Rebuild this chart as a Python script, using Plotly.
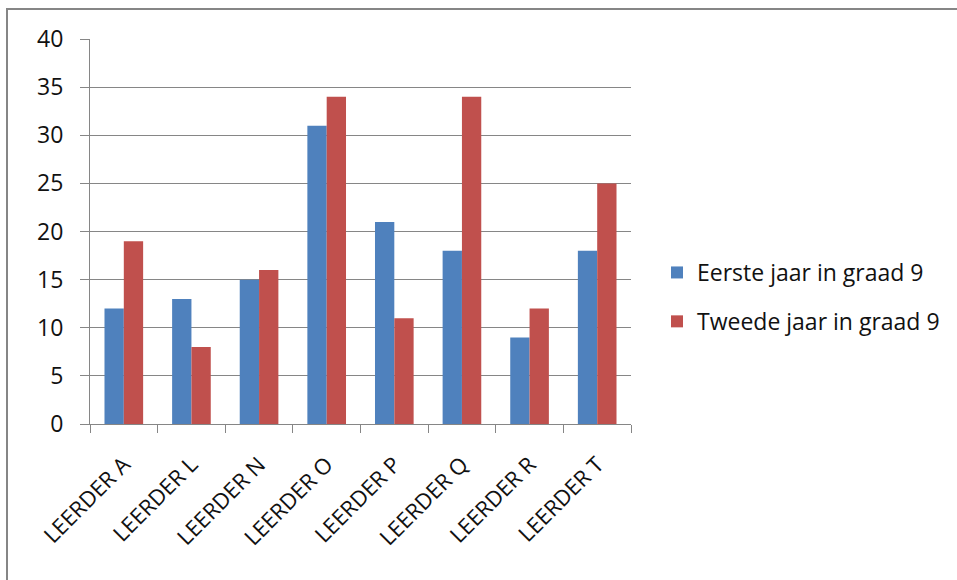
import plotly.graph_objects as go

categories = ["LEERDER A", "LEERDER L", "LEERDER N", "LEERDER O",
              "LEERDER P", "LEERDER Q", "LEERDER R", "LEERDER T"]
eerste_jaar = [12, 13, 15, 31, 21, 18, 9, 18]
tweede_jaar = [19, 8, 16, 34, 11, 34, 12, 25]
series_names = ["Eerste jaar in graad 9", "Tweede jaar in graad 9"]
series_colors = ["#4F81BD", "#C0504D"]

W, H = 957, 580
L, R, T, B = 90, 326, 39, 156
plot_w = W - L - R
plot_h = H - T - B

font_family = "'Open Sans', Lato, 'DejaVu Sans', sans-serif"

fig = go.Figure()
for name, vals, col in zip(series_names, [eerste_jaar, tweede_jaar], series_colors):
    fig.add_trace(go.Bar(
        x=categories, y=vals, name=name, legendgroup=name,
        marker=dict(color=col, line=dict(width=0)),
    ))


def px_to_paper_x(px):
    return (px - L) / plot_w


def px_to_paper_y(py):
    return (H - B - py) / plot_h


# outer chart frame (runs past the bottom/right edges of the page)
fig.add_shape(type="rect", xref="paper", yref="paper",
              x0=px_to_paper_x(7), x1=px_to_paper_x(990),
              y0=px_to_paper_y(620), y1=px_to_paper_y(9),
              line=dict(color="#868686", width=2), fillcolor="rgba(0,0,0,0)",
              layer="below")

fig.update_layout(
    width=W, height=H,
    margin=dict(l=L, r=R, t=T, b=B, pad=0),
    paper_bgcolor="white", plot_bgcolor="white",
    barmode="group", bargap=1.5 / 3.5, bargroupgap=0,
    font=dict(family=font_family, size=23, color="#111111"),
    legend=dict(
        x=px_to_paper_x(657), y=px_to_paper_y(251), xanchor="left", yanchor="top",
        font=dict(size=23), tracegroupgap=16, bgcolor="rgba(0,0,0,0)",
    ),
    xaxis=dict(
        type="category", tickangle=-45, tickson="boundaries",
        ticks="outside", ticklen=8, tickcolor="#868686", tickwidth=1,
        showline=True, linecolor="#868686", linewidth=1,
        showgrid=False, tickfont=dict(size=22), ticklabelstandoff=18,
    ),
    yaxis=dict(
        range=[0, 40], dtick=5, tick0=0,
        ticks="outside", ticklen=9, tickcolor="#868686", tickwidth=1,
        showline=True, linecolor="#868686", linewidth=1,
        showgrid=True, gridcolor="#868686", gridwidth=1,
        zeroline=False, tickfont=dict(size=23), ticklabelstandoff=12,
    ),
)

fig.write_html("out.html")
